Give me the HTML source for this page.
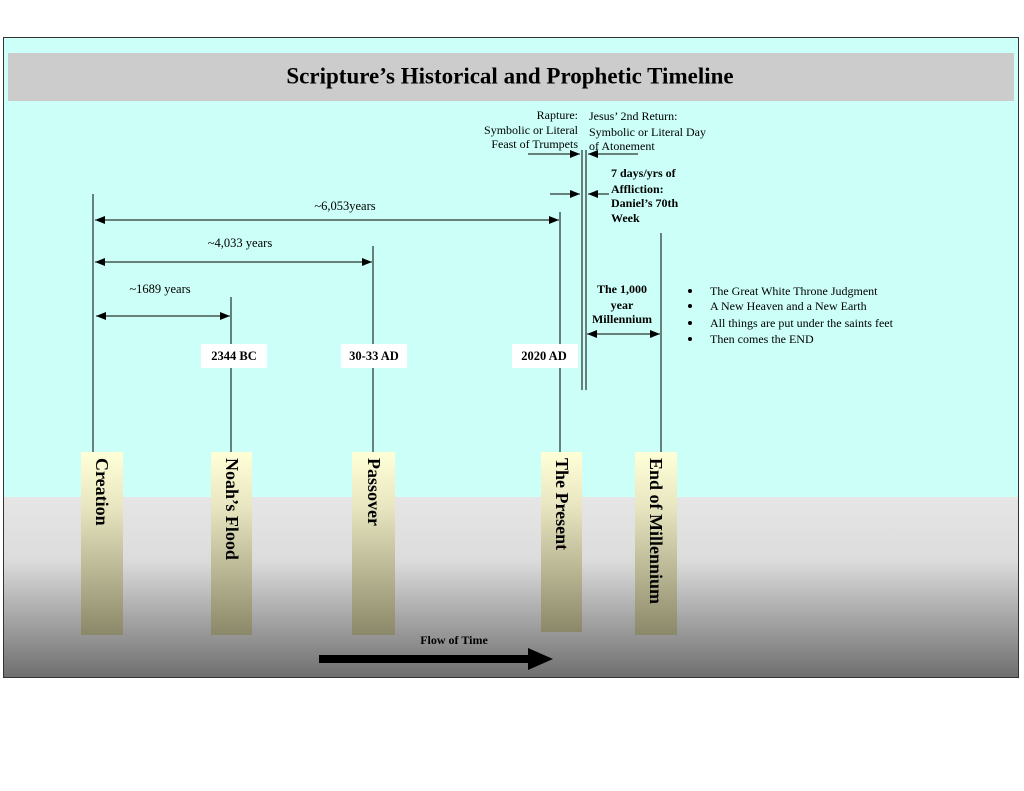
<!DOCTYPE html>
<html><head><meta charset="utf-8"><style>
html,body{margin:0;padding:0;background:#fff;width:1024px;height:791px;overflow:hidden}
svg{display:block;font-family:"Liberation Serif",serif}
</style></head><body>
<svg width="1024" height="791" viewBox="0 0 1024 791" xmlns="http://www.w3.org/2000/svg">
<defs>
<linearGradient id="g" x1="0" y1="0" x2="0" y2="1">
<stop offset="0" stop-color="#e6e6e6"/><stop offset="0.35" stop-color="#dcdcdc"/><stop offset="1" stop-color="#6f6f6f"/>
</linearGradient>
<linearGradient id="b" x1="0" y1="0" x2="0" y2="1">
<stop offset="0" stop-color="#ffffd8"/><stop offset="0.3" stop-color="#e8e6c0"/><stop offset="1" stop-color="#8a8868"/>
</linearGradient>
<marker id="ae" viewBox="0 0 10 10" refX="10" refY="5" markerWidth="10" markerHeight="10" markerUnits="userSpaceOnUse" orient="auto"><path d="M0,1 L10,5 L0,9z" fill="#000"/></marker>
<marker id="as" viewBox="0 0 10 10" refX="0" refY="5" markerWidth="10" markerHeight="10" markerUnits="userSpaceOnUse" orient="auto"><path d="M10,1 L0,5 L10,9z" fill="#000"/></marker>
</defs>
<rect x="3.5" y="37.5" width="1015" height="640" fill="#ccfff8" stroke="#333"/>
<rect x="4" y="497" width="1014" height="180" fill="url(#g)"/>
<rect x="8" y="53" width="1006" height="48" fill="#cccccc"/>
<text x="510" y="78" font-size="23" font-weight="bold" text-anchor="middle" dominant-baseline="middle">Scripture’s Historical and Prophetic Timeline</text>

<g stroke="#000" stroke-width="1" fill="none">
<line x1="93" y1="194" x2="93" y2="452"/>
<line x1="231" y1="297" x2="231" y2="452"/>
<line x1="373" y1="246" x2="373" y2="452"/>
<line x1="560" y1="212" x2="560" y2="452"/>
<line x1="582" y1="150" x2="582" y2="390"/>
<line x1="586" y1="150" x2="586" y2="390"/>
<line x1="661" y1="233" x2="661" y2="452"/>
<line x1="95" y1="220" x2="559" y2="220" marker-start="url(#as)" marker-end="url(#ae)"/>
<line x1="95" y1="262" x2="372" y2="262" marker-start="url(#as)" marker-end="url(#ae)"/>
<line x1="96" y1="316" x2="230" y2="316" marker-start="url(#as)" marker-end="url(#ae)"/>
<line x1="528" y1="154" x2="580" y2="154" marker-end="url(#ae)"/>
<line x1="638" y1="154" x2="588" y2="154" marker-end="url(#ae)"/>
<line x1="550" y1="194" x2="580" y2="194" marker-end="url(#ae)"/>
<line x1="609" y1="194" x2="588" y2="194" marker-end="url(#ae)"/>
<line x1="587" y1="334" x2="660" y2="334" marker-start="url(#as)" marker-end="url(#ae)"/>
</g>

<g font-size="12.5" text-anchor="middle">
<text x="345" y="210">~6,053years</text>
<text x="240" y="247">~4,033 years</text>
<text x="160" y="293">~1689 years</text>
</g>
<g font-size="12">
<text x="578" y="119" text-anchor="end">Rapture:</text>
<text x="578" y="134" text-anchor="end">Symbolic or Literal</text>
<text x="578" y="148" text-anchor="end">Feast of Trumpets</text>
<text x="589" y="120">Jesus’ 2nd Return:</text>
<text x="589" y="136">Symbolic or Literal Day</text>
<text x="589" y="150">of Atonement</text>
</g>
<g font-size="12" font-weight="bold">
<text x="611" y="177">7 days/yrs of</text>
<text x="611" y="193">Affliction:</text>
<text x="611" y="207">Daniel’s 70th</text>
<text x="611" y="222">Week</text>
<text x="622" y="293" text-anchor="middle">The 1,000</text>
<text x="622" y="309" text-anchor="middle">year</text>
<text x="622" y="323" text-anchor="middle">Millennium</text>
</g>
<g font-size="12">
<circle cx="690" cy="291" r="2" fill="#000"/><text x="710" y="295">The Great White Throne Judgment</text>
<circle cx="690" cy="306" r="2" fill="#000"/><text x="710" y="310">A New Heaven and a New Earth</text>
<circle cx="690" cy="323" r="2" fill="#000"/><text x="710" y="327">All things are put under the saints feet</text>
<circle cx="690" cy="339" r="2" fill="#000"/><text x="710" y="343">Then comes the END</text>
</g>

<g fill="#fff">
<rect x="201" y="344" width="66" height="24"/>
<rect x="341" y="344" width="66" height="24"/>
<rect x="512" y="344" width="66" height="24"/>
</g>
<g font-size="12.5" font-weight="bold" text-anchor="middle">
<text x="234" y="360">2344 BC</text>
<text x="374" y="360">30-33 AD</text>
<text x="544" y="360">2020 AD</text>
</g>

<g fill="url(#b)">
<rect x="81" y="452" width="42" height="183"/>
<rect x="211" y="452" width="41" height="183"/>
<rect x="352" y="452" width="43" height="183"/>
<rect x="541" y="452" width="41" height="180"/>
<rect x="635" y="452" width="42" height="183"/>
</g>
<g font-size="18" font-weight="bold">
<text transform="translate(96,458) rotate(90)">Creation</text>
<text transform="translate(226,458) rotate(90)">Noah’s Flood</text>
<text transform="translate(368,458) rotate(90)">Passover</text>
<text transform="translate(556,458) rotate(90)">The Present</text>
<text transform="translate(650,458) rotate(90)">End of Millennium</text>
</g>

<text x="454" y="644" font-size="12" font-weight="bold" text-anchor="middle">Flow of Time</text>
<rect x="319" y="655" width="210" height="8" fill="#000"/>
<path d="M528,648 L553,659 L528,670z" fill="#000"/>
</svg>
</body></html>
